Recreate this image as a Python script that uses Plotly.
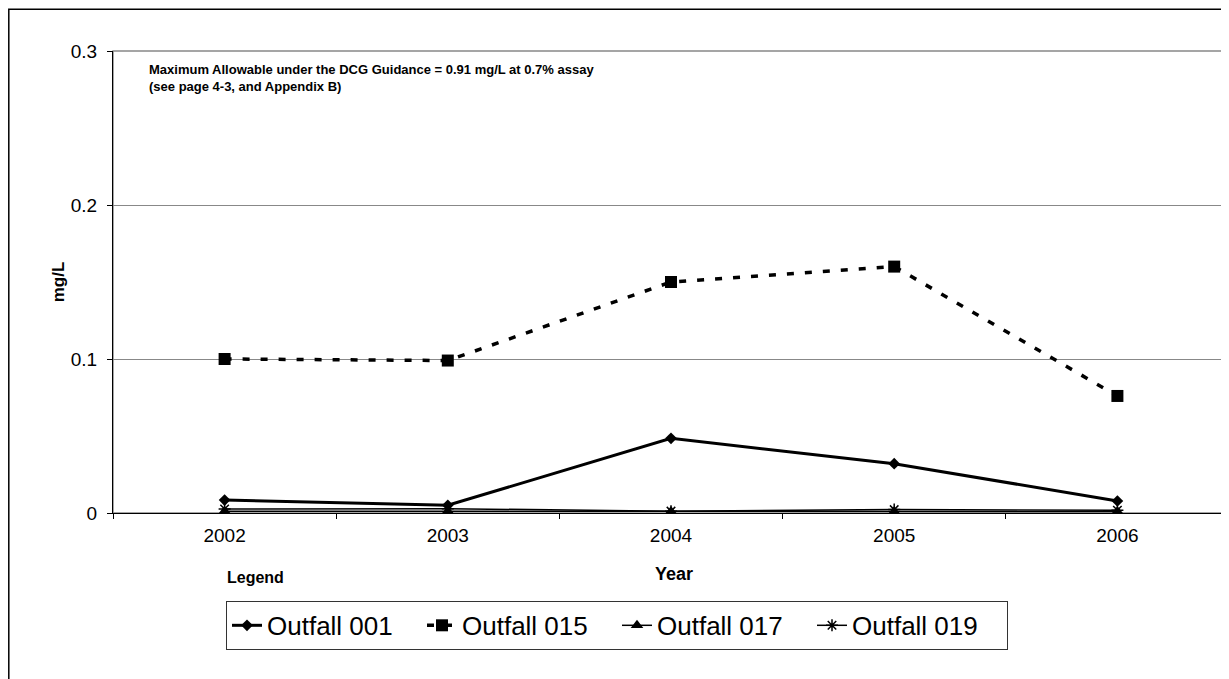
import plotly.graph_objects as go

years = ["2002", "2003", "2004", "2005", "2006"]
outfall_001 = [0.0084, 0.0050, 0.0485, 0.0320, 0.0078]
outfall_015 = [0.100, 0.099, 0.150, 0.160, 0.076]
outfall_017 = [0.0012, 0.0012, 0.0010, 0.0010, 0.0010]
outfall_019 = [0.0026, 0.0028, 0.0012, 0.0022, 0.0018]
y_ticks = [0, 0.1, 0.2, 0.3]
y_tick_labels = ["0", "0.1", "0.2", "0.3"]

# page has an 8px body margin; figure sized to fit the 1229x679 window
OFF = 8
W, H = 1221, 671
PL, PR, PT, PB = 113, 1229, 50.5, 513   # plot area in page pixels
L, R, T, B = PL - OFF, OFF + W - PR, PT - OFF, OFF + H - PB
pw, ph = W - L - R, H - T - B

def px_x(x):
    return (x - PL) / pw

def px_y(y):
    return (PB - y) / ph

FONT = "Liberation Sans, Arial, sans-serif"

fig = go.Figure()
fig.add_trace(go.Scatter(x=years, y=outfall_001, name="Outfall 001", mode="lines+markers",
                         line=dict(color="black", width=3),
                         marker=dict(symbol="diamond", size=9, color="black")))
fig.add_trace(go.Scatter(x=years, y=outfall_015, name="Outfall 015", mode="lines+markers",
                         line=dict(color="black", width=3.5, dash="7px,11px"),
                         marker=dict(symbol="square", size=12, color="black")))
fig.add_trace(go.Scatter(x=years, y=outfall_017, name="Outfall 017", mode="lines+markers",
                         line=dict(color="black", width=1.5),
                         marker=dict(symbol="triangle-up", size=11, color="black")))
fig.add_trace(go.Scatter(x=years, y=outfall_019, name="Outfall 019", mode="lines+markers",
                         line=dict(color="black", width=1.5),
                         marker=dict(symbol="asterisk-open", size=10, color="black",
                                     line=dict(color="black", width=1.5))))

fig.update_layout(
    width=W, height=H, autosize=False,
    margin=dict(l=L, r=R, t=T, b=B, pad=0),
    paper_bgcolor="white", plot_bgcolor="white",
    font=dict(family=FONT, color="black"),
    showlegend=True,
    legend=dict(orientation="h", x=px_x(226), y=px_y(601), xanchor="left", yanchor="top",
                bordercolor="#333333", borderwidth=1, font=dict(size=26, family=FONT),
                bgcolor="white", itemwidth=30, entrywidth=150, entrywidthmode="pixels",
                tracegroupgap=0),
    xaxis=dict(type="category", range=[-0.5, 4.5], tickson="boundaries", ticks="outside",
               ticklen=5, tickcolor="black", showline=True, linecolor="black", linewidth=1,
               showgrid=False, tickfont=dict(size=19), zeroline=False,
               ticklabelstandoff=5),
    yaxis=dict(range=[0, 0.3], tickvals=y_ticks, ticktext=y_tick_labels, ticks="outside",
               ticklen=5, tickcolor="black", showline=True, linecolor="black", linewidth=1,
               showgrid=True, gridcolor="#888888", gridwidth=1, zeroline=False,
               tickfont=dict(size=19), ticklabelstandoff=6),
    shapes=[
        dict(type="rect", xref="paper", yref="paper", x0=0, x1=1, y0=0, y1=1,
             line=dict(color="#888888", width=1.5), layer="below"),
        dict(type="rect", xref="paper", yref="paper", x0=px_x(8.8), x1=px_x(1240),
             y0=px_y(700), y1=px_y(8.8), line=dict(color="black", width=1.5)),
    ],
    annotations=[
        dict(text="<b>Maximum Allowable under the DCG Guidance = 0.91 mg/L at 0.7% assay<br>(see page 4-3, and Appendix B)</b>",
             xref="paper", yref="paper", x=px_x(147), y=px_y(60), xanchor="left", yanchor="top",
             showarrow=False, align="left", font=dict(size=13, family=FONT)),
        dict(text="<b>Legend</b>", xref="paper", yref="paper", x=px_x(225), y=px_y(578),
             xanchor="left", yanchor="middle", showarrow=False, font=dict(size=16, family=FONT)),
        dict(text="<b>Year</b>", xref="paper", yref="paper", x=px_x(674), y=px_y(574),
             xanchor="center", yanchor="middle", showarrow=False, font=dict(size=18, family=FONT)),
        dict(text="<b>mg/L</b>", xref="paper", yref="paper", x=px_x(58), y=px_y(282),
             xanchor="center", yanchor="middle", showarrow=False, textangle=-90,
             font=dict(size=17, family=FONT)),
    ],
)

fig.write_html("out.html")
